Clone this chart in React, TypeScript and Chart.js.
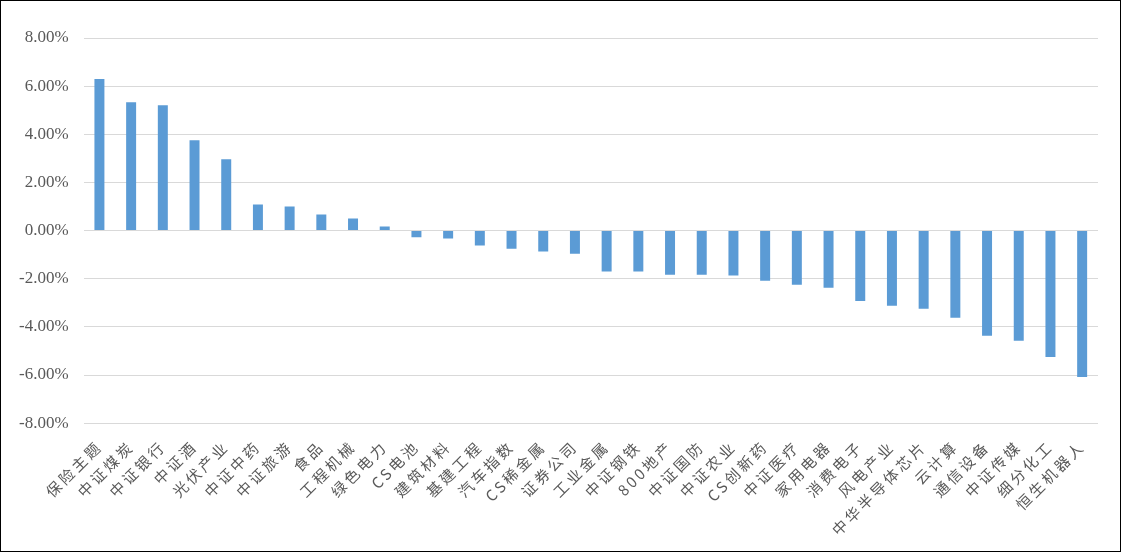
import React, { useEffect, useRef } from "react";
import { Chart, registerables } from "chart.js";

Chart.register(...registerables);

const categories: string[] = [
  "保险主题", "中证煤炭", "中证银行", "中证酒", "光伏产业", "中证中药", "中证旅游", "食品",
  "工程机械", "绿色电力", "CS电池", "建筑材料", "基建工程", "汽车指数", "CS稀金属", "证券公司",
  "工业金属", "中证钢铁", "800地产", "中证国防", "中证农业", "CS创新药", "中证医疗", "家用电器",
  "消费电子", "风电产业", "中华半导体芯片", "云计算", "通信设备", "中证传媒", "细分化工", "恒生机器人",
];

const returns: number[] = [
  6.3, 5.33, 5.21, 3.75, 2.96, 1.08, 1.0, 0.67,
  0.5, 0.17, -0.28, -0.33, -0.62, -0.75, -0.87, -0.96,
  -1.7, -1.7, -1.83, -1.83, -1.87, -2.08, -2.25, -2.37,
  -2.92, -3.12, -3.25, -3.62, -4.37, -4.58, -5.25, -6.08,
];

const yMin = -8;
const yMax = 8;
const yStep = 2;

const SPACING = 3;

const spacingPlugin = {
  id: "xLabelSpacing",
  beforeLayout(chart: any) {
    chart.ctx.letterSpacing = SPACING + "px";
  },
  afterLayout(chart: any) {
    chart.ctx.letterSpacing = "0px";
  },
  beforeDraw(chart: any) {
    const xs: any = chart.scales.x;
    if (xs && !xs.__patched) {
      const orig = xs.drawLabels.bind(xs);
      xs.drawLabels = function (area: any) {
        const ctx = this.ctx;
        const prev = ctx.letterSpacing;
        ctx.letterSpacing = SPACING + "px";
        orig(area);
        ctx.letterSpacing = prev;
      };
      xs.__patched = true;
    }
  },
};

export default function App() {
  const ref = useRef<HTMLCanvasElement | null>(null);
  useEffect(() => {
    document.body.style.margin = "0";
    if (!ref.current) return;
    const chart = new Chart(ref.current, {
      type: "bar",
      data: {
        labels: categories,
        datasets: [
          {
            data: returns,
            backgroundColor: "#5B9BD5",
            borderWidth: 0,
            barPercentage: 0.63,
            categoryPercentage: 0.5,
          },
        ],
      },
      plugins: [spacingPlugin],
      options: {
        animation: false,
        responsive: true,
        maintainAspectRatio: false,
        layout: { padding: { top: 37, left: 0, right: 22, bottom: 6 } },
        plugins: { legend: { display: false }, tooltip: { enabled: false } },
        scales: {
          x: {
            grid: { display: false },
            border: { display: false },
            ticks: {
              autoSkip: false,
              minRotation: 45,
              maxRotation: 45,
              color: "#595959",
              font: { family: "'Noto Sans CJK SC', 'Liberation Serif', serif", size: 15 },
              padding: 6,
            },
          },
          y: {
            min: yMin,
            max: yMax,
            grid: { color: "#D9D9D9", lineWidth: 1, drawTicks: false },
            border: { display: false },
            afterFit: (s: any) => {
              s.width -= SPACING * 5;
            },
            ticks: {
              stepSize: yStep,
              padding: 15,
              color: "#595959",
              font: { family: "'Liberation Serif', serif", size: 17 },
              callback: (v: any) => Number(v).toFixed(2) + "%",
            },
          },
        },
      },
    });
    return () => chart.destroy();
  }, []);
  return (
    <div
      style={{
        position: "fixed",
        left: 0,
        top: 0,
        width: 1121,
        height: 552,
        border: "1px solid #000",
        boxSizing: "border-box",
        background: "#fff",
      }}
    >
      <div style={{ position: "relative", width: 1119, height: 550 }}>
        <canvas ref={ref} />
      </div>
    </div>
  );
}
